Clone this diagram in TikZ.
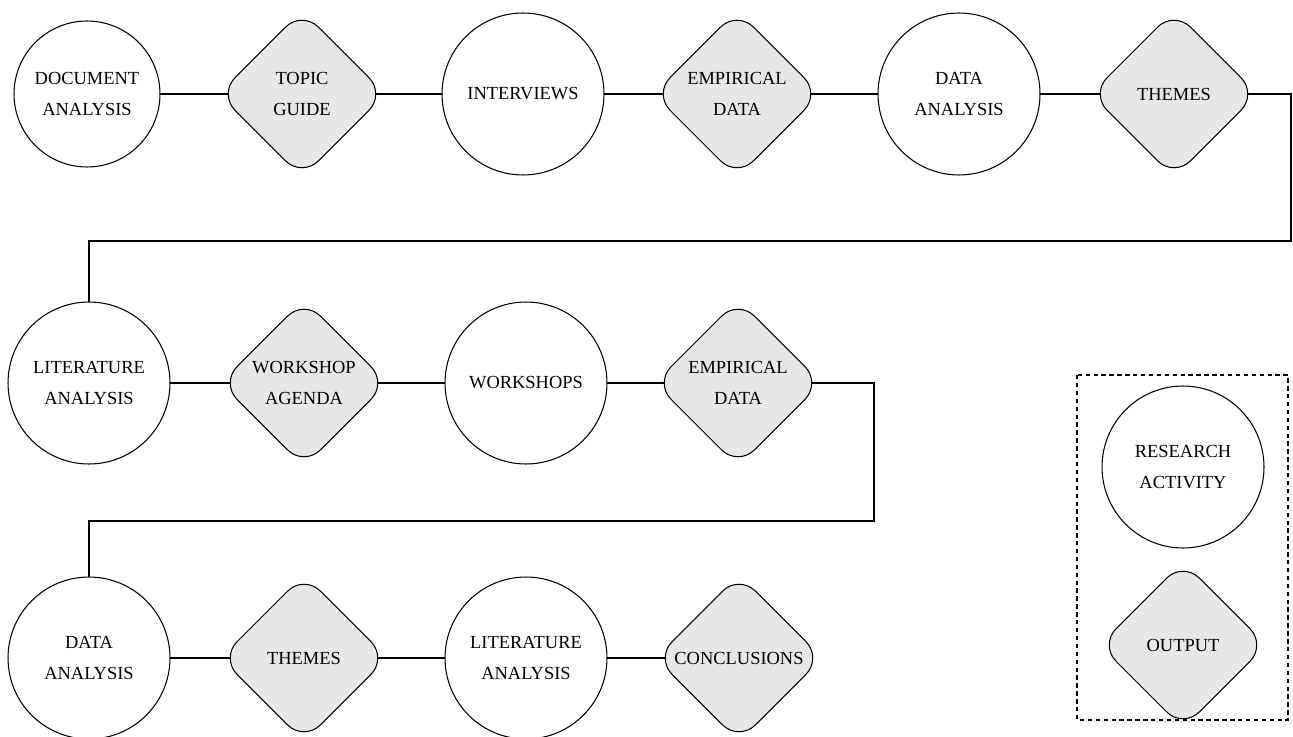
\documentclass[tikz,border=0pt]{standalone}
\usepackage{fontspec}
\setmainfont{Liberation Serif}
\usetikzlibrary{shapes.geometric,backgrounds}
\definecolor{boxgray}{HTML}{E6E7E9}

\begin{document}
\begin{tikzpicture}[x=0.02cm, y=-0.02cm,
	every node/.style={align=center, inner sep=0pt, draw=black, line width=0.6pt,
		font=\fontsize{10.5}{18}\selectfont},
	activity/.style={circle, fill=white, minimum size=3.24cm},
	output/.style={diamond, aspect=1, fill=boxgray, minimum size=3.34cm, rounded corners=0.46cm}]
	\tikzset{link/.style={line width=0.6pt}}
	\useasboundingbox (0,0) rectangle (1293,736);
	% first row
	\node[activity, minimum size=2.92cm] (a1) at (87,94) {DOCUMENT\\ANALYSIS};
	\node[output]   (a2) at (302,94)  {TOPIC\\GUIDE};
	\node[activity] (a3) at (523,94)  {INTERVIEWS};
	\node[output]   (a4) at (737,94)  {EMPIRICAL\\DATA};
	\node[activity] (a5) at (959,94)  {DATA\\ANALYSIS};
	\node[output]   (a6) at (1174,94) {THEMES};
	% second row
	\node[activity] (b1) at (89,383)  {LITERATURE\\ANALYSIS};
	\node[output]   (b2) at (304,383) {WORKSHOP\\AGENDA};
	\node[activity] (b3) at (526,383) {WORKSHOPS};
	\node[output]   (b4) at (738,383) {EMPIRICAL\\DATA};
	% third row
	\node[activity] (c1) at (89,658)  {DATA\\ANALYSIS};
	\node[output]   (c2) at (304,658) {THEMES};
	\node[activity] (c3) at (526,658) {LITERATURE\\ANALYSIS};
	\node[output]   (c4) at (739,658) {CONCLUSIONS};
	% key
	\draw[line width=0.6pt, dash pattern=on 2.5pt off 2pt] (1077,375) rectangle (1288,720);
	\node[activity] (k1) at (1183,467) {RESEARCH\\ACTIVITY};
	\node[output]   (k2) at (1183,645) {OUTPUT};
	\coordinate (t1) at (1291,241);
	\coordinate (t2) at (874,521);
	\begin{pgfonlayer}{background}
		\foreach \from/\to in {
			a1/a2, a2/a3, a3/a4, a4/a5, a5/a6,
			b1/b2, b2/b3, b3/b4,
			c1/c2, c2/c3, c3/c4}
		\draw[link] (\from.center) -- (\to.center);
		\draw[link] (a6.center) -| (t1) -| (b1.center);
		\draw[link] (b4.center) -| (t2) -| (c1.center);
	\end{pgfonlayer}
\end{tikzpicture}
\end{document}
